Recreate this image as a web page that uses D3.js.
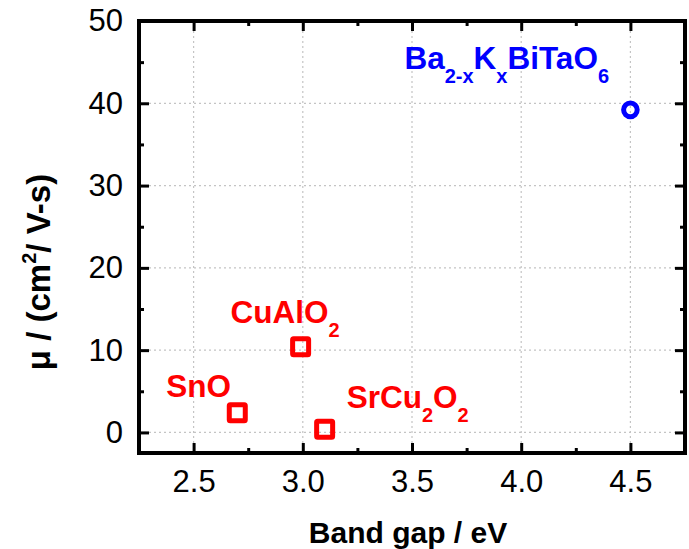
<!DOCTYPE html>
<html><head><meta charset="utf-8">
<script src="https://cdn.jsdelivr.net/npm/d3@7"></script>
<style>body{margin:0;background:#fff} svg{display:block}</style>
</head><body><svg id="c" width="689" height="549"></svg>
<script>
// ---- data ----
const pTypeNames = ["SnO", "CuAlO2", "SrCu2O2"];
const pTypeGap = [2.70, 2.99, 3.10];
const pTypeMobility = [2.4, 10.4, 0.4];
const nTypeNames = ["Ba2-xKxBiTaO6"];
const nTypeGap = [4.5];
const nTypeMobility = [39.2];
const xTicks = [2.5, 3.0, 3.5, 4.0, 4.5];
const xMinorTicks = [2.75, 3.25, 3.75, 4.25];
const yTicks = [0, 10, 20, 30, 40, 50];
const yMinorTicks = [5, 15, 25, 35, 45];
// label rich-text pieces: [text, isSubscript]
const labelParts = {
  "SnO": [["SnO", false]],
  "CuAlO2": [["CuAlO", false], ["2", true]],
  "SrCu2O2": [["SrCu", false], ["2", true], ["O", false], ["2", true]],
  "Ba2-xKxBiTaO6": [["Ba", false], ["2-x", true], ["K", false], ["x", true], ["BiTaO", false], ["6", true]]
};

// ---- layout ----
const W = 689, H = 549;
const m = {left: 139, right: 4, top: 21, bottom: 96};
const iw = W - m.left - m.right, ih = H - m.top - m.bottom;
const FONT = "'Liberation Sans', Arial, sans-serif";
const RED = "#ff0000", BLUE = "#0000ff";

const svg = d3.select("#c");
const g = svg.append("g").attr("transform", `translate(${m.left},${m.top})`);
const x = d3.scaleLinear().domain([2.25, 4.75]).range([0, iw]);
const y = d3.scaleLinear().domain([-2.5, 50]).range([ih, 0]);

// grid
const grid = g.append("g").attr("stroke", "#c4c4c4").attr("stroke-width", 1.2).attr("stroke-dasharray", "2,3");
grid.selectAll("line.vx").data(xTicks).join("line")
  .attr("x1", d => x(d)).attr("x2", d => x(d)).attr("y1", 0).attr("y2", ih);
grid.selectAll("line.hy").data(yTicks).join("line")
  .attr("x1", 0).attr("x2", iw).attr("y1", d => y(d)).attr("y2", d => y(d));

function styleAxis(sel, labels) {
  sel.select(".domain").remove();
  sel.selectAll(".tick line").attr("stroke", "#000").attr("stroke-width", 3);
  sel.selectAll("text").attr("font-family", FONT).attr("font-size", 31).attr("fill", "#000");
  if (!labels) sel.selectAll("text").remove();
}
const fmtX = d3.format(".1f");
styleAxis(g.append("g").attr("transform", `translate(0,${ih})`)
  .call(d3.axisBottom(x).tickValues(xTicks).tickSize(-10).tickPadding(17).tickFormat(fmtX)), true);
styleAxis(g.append("g").attr("transform", `translate(0,${ih})`)
  .call(d3.axisBottom(x).tickValues(xMinorTicks).tickSize(-5).tickFormat("")), false);
styleAxis(g.append("g")
  .call(d3.axisTop(x).tickValues(xTicks).tickSize(-10).tickFormat("")), false);
styleAxis(g.append("g")
  .call(d3.axisTop(x).tickValues(xMinorTicks).tickSize(-5).tickFormat("")), false);
styleAxis(g.append("g")
  .call(d3.axisLeft(y).tickValues(yTicks).tickSize(-10).tickPadding(16).tickFormat(d3.format("d"))), true);
styleAxis(g.append("g")
  .call(d3.axisLeft(y).tickValues(yMinorTicks).tickSize(-5).tickFormat("")), false);
styleAxis(g.append("g").attr("transform", `translate(${iw},0)`)
  .call(d3.axisRight(y).tickValues(yTicks).tickSize(-10).tickFormat("")), false);
styleAxis(g.append("g").attr("transform", `translate(${iw},0)`)
  .call(d3.axisRight(y).tickValues(yMinorTicks).tickSize(-5).tickFormat("")), false);

// frame
g.append("rect").attr("x", 0).attr("y", 0).attr("width", iw).attr("height", ih)
  .attr("fill", "none").attr("stroke", "#000").attr("stroke-width", 4);

// markers
const pData = pTypeNames.map((n, i) => ({name: n, gap: pTypeGap[i], mu: pTypeMobility[i]}));
const nData = nTypeNames.map((n, i) => ({name: n, gap: nTypeGap[i], mu: nTypeMobility[i]}));
const sq = 16;
g.selectAll("rect.p").data(pData).join("rect").attr("class", "p")
  .attr("x", d => x(d.gap) - sq / 2).attr("y", d => y(d.mu) - sq / 2)
  .attr("width", sq).attr("height", sq).attr("rx", 1)
  .attr("fill", "none").attr("stroke", RED).attr("stroke-width", 5);
g.selectAll("circle.n").data(nData).join("circle").attr("class", "n")
  .attr("cx", d => x(d.gap)).attr("cy", d => y(d.mu)).attr("r", 6.8)
  .attr("fill", "none").attr("stroke", BLUE).attr("stroke-width", 5);

// labels (offsets in pixels from marker)
const labelOffset = {
  "SnO": [-71, -16],
  "CuAlO2": [-70, -24],
  "SrCu2O2": [22, -21],
  "Ba2-xKxBiTaO6": [-226, -41]
};
function addLabel(d, color) {
  const [dx, dy] = labelOffset[d.name];
  const t = g.append("text").attr("x", x(d.gap) + dx).attr("y", y(d.mu) + dy)
    .attr("font-family", FONT).attr("font-weight", "bold").attr("fill", color);
  let sub = false;
  labelParts[d.name].forEach(([s, isSub]) => {
    const ts = t.append("tspan").text(s).attr("font-size", isSub ? 20 : 31.5);
    if (isSub !== sub) { ts.attr("dy", isSub ? 14 : -14); sub = isSub; }
  });
}
pData.forEach(d => addLabel(d, RED));
nData.forEach(d => addLabel(d, BLUE));

// axis titles
svg.append("text").attr("x", 408).attr("y", 543).attr("text-anchor", "middle")
  .attr("font-family", FONT).attr("font-weight", "bold").attr("font-size", 30)
  .text("Band gap / eV");
const yt = svg.append("text").attr("transform", "translate(50,272) rotate(-90)")
  .attr("text-anchor", "middle").attr("font-family", FONT).attr("font-weight", "bold").attr("font-size", 33);
yt.append("tspan").text("\u03bc / (cm");
yt.append("tspan").text("2").attr("font-size", 20).attr("dy", -14);
yt.append("tspan").text("/ V-s)").attr("dy", 14);
</script></body></html>
